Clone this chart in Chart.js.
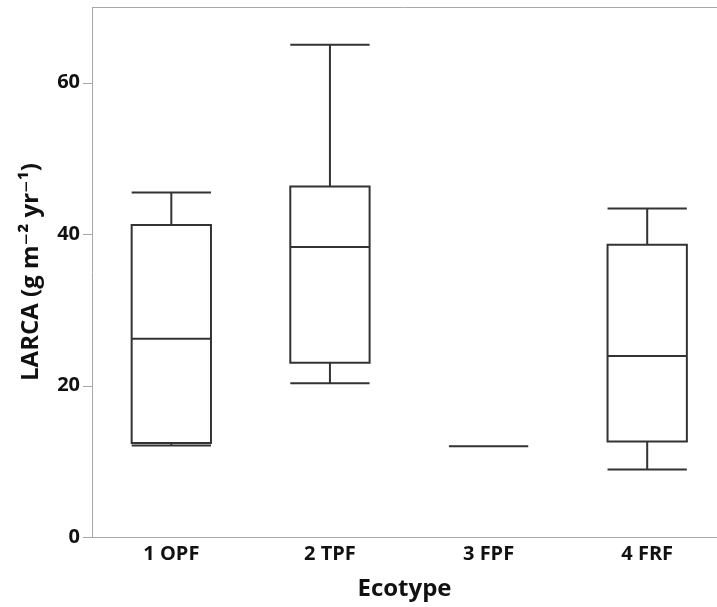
<!DOCTYPE html>
<html>
<head>
<meta charset="utf-8">
<script src="https://cdn.jsdelivr.net/npm/chart.js@4/dist/chart.umd.min.js"></script>
<style>
  html, body { margin: 0; padding: 0; background: #fff; overflow: hidden; }
  #wrap { width: 717px; height: 607px; }
</style>
</head>
<body>
<div id="wrap"><canvas id="c" width="717" height="607"></canvas></div>
<script>
// Ecotype categories and five-number summaries of LARCA (g m-2 yr-1)
const categories   = ['1 OPF', '2 TPF', '3 FPF', '4 FRF'];
const whiskerLow   = [12.1, 20.3, 12.0, 8.9];
const quartile1    = [12.4, 23.0, 12.0, 12.6];
const medians      = [26.2, 38.3, 12.0, 23.9];
const quartile3    = [41.2, 46.3, 12.0, 38.6];
const whiskerHigh  = [45.5, 65.0, 12.0, 43.4];
const yLabelTicks  = [0, 20, 40, 60];

const AXIS_COLOR = '#a8a8a8';
const BOX_COLOR = '#333333';
const FONT = "'Open Sans', 'DejaVu Sans', sans-serif";

// Whiskers, caps and medians drawn against the chart's own scales
const boxPlotPlugin = {
  id: 'boxPlotExtras',
  afterDatasetsDraw(chart) {
    const { ctx, scales: { x, y } } = chart;
    const meta = chart.getDatasetMeta(0);
    ctx.save();
    ctx.strokeStyle = BOX_COLOR;
    ctx.lineWidth = 2;
    meta.data.forEach((bar, i) => {
      const half = bar.width / 2;
      const cx = x.getPixelForValue(i + 1);
      const l = cx - half, r = cx + half;
      const yq1 = y.getPixelForValue(quartile1[i]);
      const yq3 = y.getPixelForValue(quartile3[i]);
      const ylo = y.getPixelForValue(whiskerLow[i]);
      const yhi = y.getPixelForValue(whiskerHigh[i]);
      const ymd = y.getPixelForValue(medians[i]);
      ctx.beginPath();
      // box outline
      ctx.rect(l, yq3, r - l, yq1 - yq3);
      // whiskers
      ctx.moveTo(cx, yq3); ctx.lineTo(cx, yhi);
      ctx.moveTo(cx, yq1); ctx.lineTo(cx, ylo);
      // caps
      ctx.moveTo(l, yhi); ctx.lineTo(r, yhi);
      ctx.moveTo(l, ylo); ctx.lineTo(r, ylo);
      // median
      ctx.moveTo(l, ymd); ctx.lineTo(r, ymd);
      ctx.stroke();
    });
    ctx.restore();
  },
  afterDraw(chart) {
    // y tick marks (long at labelled values, short elsewhere) and top frame line
    const { ctx, chartArea, scales: { y } } = chart;
    ctx.save();
    ctx.strokeStyle = AXIS_COLOR;
    ctx.lineWidth = 1;
    ctx.beginPath();
    y.ticks.forEach(t => {
      const py = Math.round(y.getPixelForValue(t.value)) + 0.5;
      const len = yLabelTicks.includes(t.value) ? 9 : 4;
      ctx.moveTo(chartArea.left - len, py);
      ctx.lineTo(chartArea.left, py);
    });
    const top = Math.round(chartArea.top) + 0.5;
    ctx.moveTo(chartArea.left, top);
    ctx.lineTo(chartArea.right, top);
    ctx.stroke();
    ctx.restore();
  }
};

new Chart(document.getElementById('c'), {
  type: 'bar',
  data: {
    datasets: [{
      data: categories.map((c, i) => ({ x: i + 1, y: [quartile1[i], quartile3[i]] })),
      backgroundColor: 'rgba(255,255,255,0)',
      borderWidth: 0,
      barPercentage: 0.5,
      categoryPercentage: 1
    }]
  },
  options: {
    responsive: false,
    animation: false,
    events: [],
    layout: { padding: { top: 7, right: 0, left: 0, bottom: 0 } },
    plugins: { legend: { display: false }, tooltip: { enabled: false } },
    scales: {
      x: {
        type: 'linear',
        offset: false,
        min: 0.5,
        max: 4.44,
        afterBuildTicks: s => { s.ticks = categories.map((c, i) => ({ value: i + 1 })); },
        afterFit: s => { s.height = 70; s.paddingLeft = 0; s.paddingRight = 0; },
        grid: { display: false, drawTicks: false },
        border: { display: true, color: AXIS_COLOR, width: 1 },
        ticks: {
          autoSkip: false,
          maxRotation: 0,
          padding: 5,
          color: '#111',
          font: { family: FONT, size: 20, weight: 'bold' },
          callback: v => categories[v - 1]
        },
        title: {
          display: true,
          text: 'Ecotype',
          color: '#111',
          font: { family: FONT, size: 24, weight: 'bold' },
          padding: { top: 0, bottom: 3 }
        }
      },
      y: {
        min: 0,
        max: 70,
        afterFit: s => { s.width = 92; s.paddingTop = 0; s.paddingBottom = 0; },
        grid: { display: false, drawTicks: false },
        border: { display: true, color: AXIS_COLOR, width: 1 },
        ticks: {
          stepSize: 5,
          autoSkip: false,
          padding: 12,
          color: '#111',
          font: { family: FONT, size: 20, weight: 'bold' },
          callback: v => (yLabelTicks.includes(v) ? String(v) : null)
        },
        title: {
          display: true,
          text: 'LARCA (g m\u207B\u00B2 yr\u207B\u00B9)',
          color: '#111',
          font: { family: FONT, size: 24, weight: 'bold' },
          padding: { top: 17, bottom: 0 }
        }
      }
    }
  },
  plugins: [boxPlotPlugin]
});
</script>
</body>
</html>
